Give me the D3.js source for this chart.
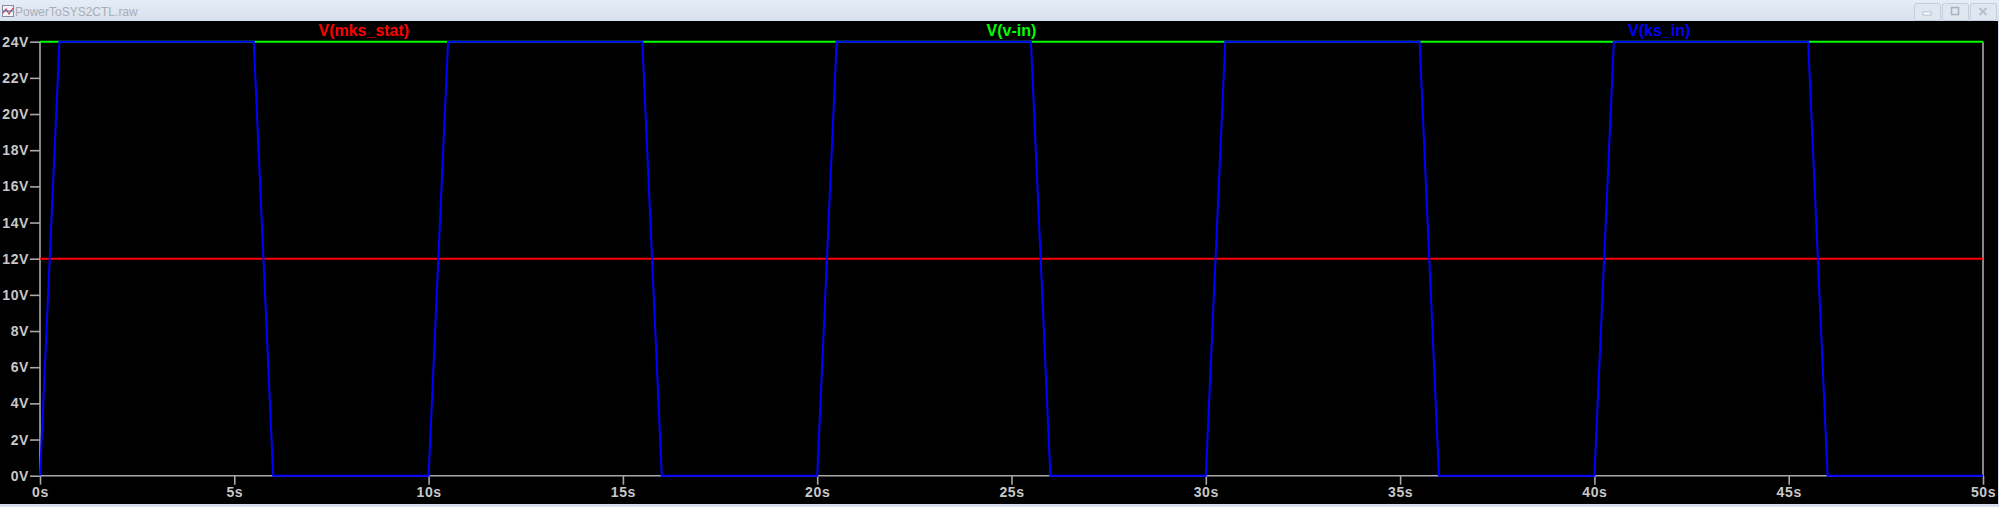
<!DOCTYPE html>
<html><head><meta charset="utf-8">
<script src="https://cdn.jsdelivr.net/npm/d3@7"></script>
<style>
html,body{margin:0;padding:0;background:#000;overflow:hidden;}
svg{display:block;}
</style></head>
<body>
<svg id="chart" width="1999" height="507"></svg>
<script>
const windowTitle = "PowerToSYS2CTL.raw";
const seriesNames = ["V(mks_stat)", "V(v-in)", "V(ks_in)"];
const seriesColors = ["#ff0000", "#00ff00", "#0000ff"];
const mksTimes = [0, 50];
const mksValues = [12, 12];
const vinTimes = [0, 50];
const vinValues = [24, 24];
const ksTimes = [0, 0.5, 5.5, 6, 10, 10.5, 15.5, 16, 20, 20.5, 25.5, 26, 30, 30.5, 35.5, 36, 40, 40.5, 45.5, 46, 50];
const ksValues = [0, 24, 24, 0, 0, 24, 24, 0, 0, 24, 24, 0, 0, 24, 24, 0, 0, 24, 24, 0, 0];
const xTicks = [0, 5, 10, 15, 20, 25, 30, 35, 40, 45, 50];
const yTicks = [0, 2, 4, 6, 8, 10, 12, 14, 16, 18, 20, 22, 24];

(function(){
const W = 1999, H = 507;
const svg = d3.select("#chart");
const pL = 40, pR = 1983, pT = 41.7, pB = 475.7;

// window chrome
const defs = svg.append("defs");
const g1 = defs.append("linearGradient").attr("id","tb").attr("x1",0).attr("y1",0).attr("x2",0).attr("y2",1);
g1.append("stop").attr("offset","0%").attr("stop-color","#e6edf6");
g1.append("stop").attr("offset","100%").attr("stop-color","#d6e0ec");
svg.append("rect").attr("x",0).attr("y",0).attr("width",W).attr("height",H).attr("fill","#d6e0ec");
svg.append("rect").attr("x",0).attr("y",0).attr("width",W).attr("height",21).attr("fill","url(#tb)");
svg.append("rect").attr("x",0).attr("y",21).attr("width",W-1).attr("height",H-24).attr("fill","#000");

// icon
const icon = svg.append("g").attr("transform","translate(2,5)");
icon.append("rect").attr("x",0.5).attr("y",0.5).attr("width",11).attr("height",11).attr("fill","#f4f4f8").attr("stroke","#8a8aa0");
icon.append("path").attr("d","M1,8 L4,4 L7,9 L11,3").attr("fill","none").attr("stroke","#d04040").attr("stroke-width",1.2);
icon.append("path").attr("d","M1,6 L11,6").attr("fill","none").attr("stroke","#4060c0").attr("stroke-width",1);
svg.append("text").attr("x",15).attr("y",16).text(windowTitle)
  .attr("font-family","Liberation Sans, Arial, sans-serif").attr("font-size",12).attr("fill","#a8aeb8");

// window buttons
const btnX = [1914, 1942, 1970];
btnX.forEach((bx,i)=>{
  svg.append("rect").attr("x",bx+0.5).attr("y",3.5).attr("width",26).attr("height",17).attr("rx",2)
    .attr("fill","#dfe7f1").attr("stroke","#c4cfdc");
  const cx = bx+13, cy = 12;
  if(i===0) svg.append("rect").attr("x",cx-4).attr("y",cy).attr("width",8).attr("height",3).attr("fill","#fff").attr("stroke","#a9b3c0").attr("stroke-width",0.8);
  if(i===1) svg.append("rect").attr("x",cx-3.5).attr("y",cy-4.5).attr("width",7).attr("height",7).attr("fill","none").attr("stroke","#a9b3c0").attr("stroke-width",1.5);
  if(i===2) svg.append("path").attr("d",`M${cx-3.5},${cy-4} L${cx+3.5},${cy+3} M${cx+3.5},${cy-4} L${cx-3.5},${cy+3}`).attr("stroke","#b6bfcb").attr("stroke-width",2);
});

// scales
const x = d3.scaleLinear().domain([0,50]).range([pL,pR]);
const y = d3.scaleLinear().domain([0,24]).range([pB,pT]);

const axisColor = "#a8a8a8", labelColor = "#c8c8c8";
const font = "Liberation Sans, Arial, sans-serif";

// axes
const yAxis = svg.append("g").attr("transform",`translate(${pL},0)`)
  .call(d3.axisLeft(y).tickValues(yTicks).tickSize(10).tickPadding(1).tickFormat(d=>d+"V"));
const xAxis = svg.append("g").attr("transform",`translate(0,${pB})`)
  .call(d3.axisBottom(x).tickValues(xTicks).tickSize(9).tickPadding(2).tickFormat(d=>d+"s"));
const rAxis = svg.append("g").attr("transform",`translate(${pR},0)`)
  .call(d3.axisRight(y).tickValues([]).tickSize(0));
[yAxis,xAxis,rAxis].forEach(a=>{
  a.select(".domain").attr("stroke",axisColor).attr("stroke-width",1.6);
  a.selectAll(".tick line").attr("stroke",axisColor).attr("stroke-width",1.6);
  a.selectAll("text").attr("fill",labelColor).attr("font-family",font)
    .attr("font-size",14).attr("font-weight","bold").attr("letter-spacing","0.6px");
});
yAxis.select(".domain").attr("d",`M0,${pB}V${pT}`);
xAxis.select(".domain").attr("d",`M${pL},0H${pR}`);
rAxis.select(".domain").attr("d",`M0,${pB}V${pT}`);

// traces
const line = d3.line().x(d=>x(d[0])).y(d=>y(d[1]));
const traces = [
  d3.zip(mksTimes, mksValues),
  d3.zip(vinTimes, vinValues),
  d3.zip(ksTimes, ksValues)
];
traces.forEach((pts,i)=>{
  svg.append("path").datum(pts).attr("d",line).attr("fill","none")
    .attr("stroke",seriesColors[i]).attr("stroke-width",2);
});

// trace labels
const labelPos = [1/6, 1/2, 5/6];
seriesNames.forEach((n,i)=>{
  svg.append("text").attr("x",pL+(pR-pL)*labelPos[i]).attr("y",36)
    .attr("text-anchor","middle").attr("font-family",font).attr("font-size",16)
    .attr("font-weight","bold").attr("fill",seriesColors[i]).text(n);
});
})();
</script>
</body></html>
